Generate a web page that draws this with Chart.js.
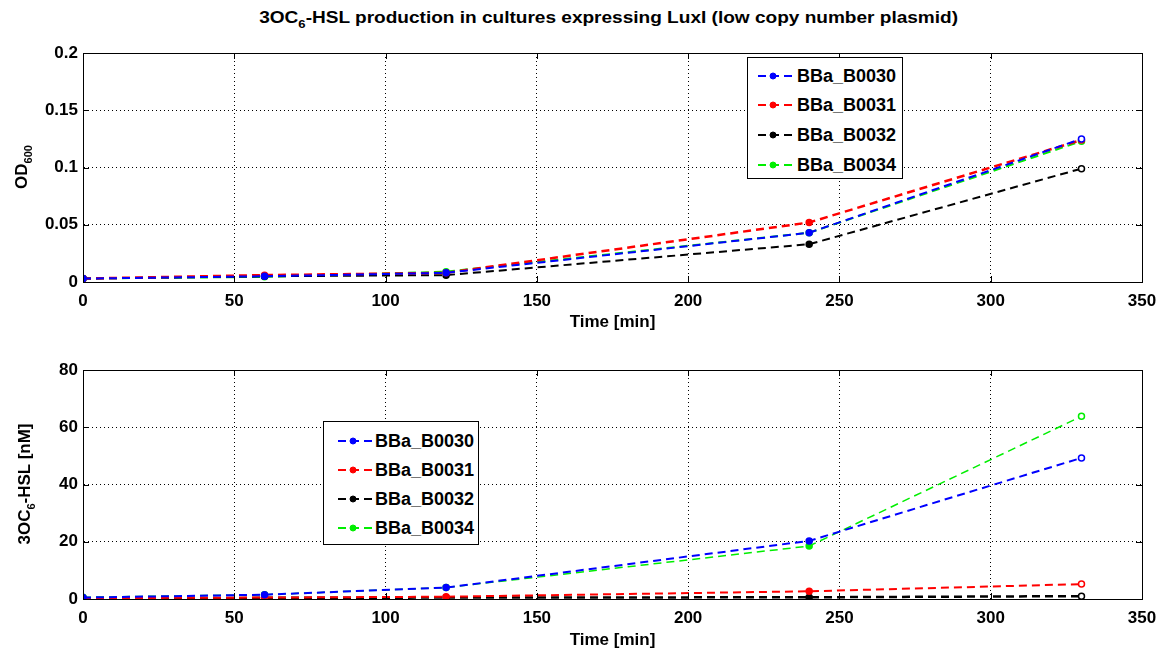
<!DOCTYPE html>
<html><head><meta charset="utf-8">
<script src="https://cdn.jsdelivr.net/npm/chart.js@4/dist/chart.umd.min.js"></script>
<style>
html,body{margin:0;padding:0;background:#fff;}
body{width:1168px;height:653px;position:relative;overflow:hidden;font-family:"Liberation Sans",Arial,sans-serif;}
.cv{position:absolute;left:0;}
#titlewrap{position:absolute;left:0;width:1218px;top:9px;text-align:center;}
#title{display:inline-block;font-weight:bold;font-size:16px;color:#000;transform:scaleX(1.19);transform-origin:50% 50%;white-space:nowrap;}
sub{font-size:11px;vertical-align:-5px;line-height:0;}
.ytitle{position:absolute;font-weight:bold;font-size:17px;white-space:nowrap;transform:translate(-50%,-50%) rotate(-90deg);}
.legend{position:absolute;border:1px solid #000;background:#fff;box-sizing:border-box;}
.li{position:absolute;left:0;font-weight:bold;font-size:18px;height:20px;line-height:20px;white-space:nowrap;}
.li svg{position:absolute;top:0;}
.li span{position:absolute;top:0;}
</style></head>
<body>
<div id="titlewrap"><div id="title">3OC<sub>6</sub>-HSL production in cultures expressing LuxI (low copy number plasmid)</div></div>
<canvas id="c1" class="cv" style="top:0" width="1168" height="333"></canvas>
<canvas id="c2" class="cv" style="top:333px" width="1168" height="320"></canvas>
<div class="ytitle" style="left:22px;top:167px;">OD<sub>600</sub></div>
<div class="ytitle" style="left:25px;top:484px;">3OC<sub>6</sub>-HSL [nM]</div>
<div id="leg1" class="legend" style="left:747px;top:57px;width:156px;height:122px;"></div>
<div id="leg2" class="legend" style="left:323px;top:421px;width:156px;height:124px;"></div>
<script>
const times = [0, 60, 120, 240, 330];
const seriesNames = ['BBa_B0030', 'BBa_B0031', 'BBa_B0032', 'BBa_B0034'];
const seriesColors = ['#0000ff', '#ff0000', '#000000', '#00ee00'];
const odB0030 = [0.003, 0.005, 0.008, 0.043, 0.125];
const odB0031 = [0.003, 0.006, 0.008, 0.052, 0.124];
const odB0032 = [0.003, 0.005, 0.006, 0.033, 0.099];
const odB0034 = [0.003, 0.0045, 0.009, 0.043, 0.123];
const hslB0030 = [0.5, 1.5, 4.0, 20.3, 49.3];
const hslB0031 = [0.3, 0.5, 0.8, 2.7, 5.2];
const hslB0032 = [0.2, 0.4, 0.5, 0.6, 1.0];
const hslB0034 = [0.6, 1.5, 4.0, 18.5, 63.8];
const xTicks = [0, 50, 100, 150, 200, 250, 300, 350];
const odTicks = [0, 0.05, 0.1, 0.15, 0.2];
const hslTicks = [0, 20, 40, 60, 80];

const FONT = "'Liberation Sans', Arial, sans-serif";

function makeDatasets(arrs, widths) {
  return arrs.map((arr, i) => ({
    label: seriesNames[i],
    data: times.map((t, k) => ({x: t, y: arr[k]})),
    borderColor: seriesColors[i],
    backgroundColor: seriesColors[i],
    pointBackgroundColor: ctx => ctx.dataIndex === times.length - 1 ? '#ffffff' : seriesColors[i],
    pointBorderColor: seriesColors[i],
    pointRadius: 3,
    pointBorderWidth: 1.5,
    borderWidth: widths[i],
    borderDash: [8, 5],
    tension: 0,
    fill: false
  }));
}

const boxPlugin = {
  id: 'box',
  afterDatasetsDraw(chart) {
    const {ctx, chartArea: a, scales} = chart;
    ctx.save();
    ctx.strokeStyle = '#000';
    ctx.lineWidth = 1;
    ctx.setLineDash([]);
    ctx.strokeRect(a.left + 0.5, a.top + 0.5, a.right - a.left, a.bottom - a.top);
    const tl = 6;
    ctx.beginPath();
    scales.x.ticks.forEach(t => {
      const px = Math.round(scales.x.getPixelForValue(t.value)) + 0.5;
      ctx.moveTo(px, a.bottom); ctx.lineTo(px, a.bottom - tl);
      ctx.moveTo(px, a.top); ctx.lineTo(px, a.top + tl);
    });
    scales.y.ticks.forEach(t => {
      const py = Math.round(scales.y.getPixelForValue(t.value)) + 0.5;
      ctx.moveTo(a.left, py); ctx.lineTo(a.left + tl, py);
      ctx.moveTo(a.right, py); ctx.lineTo(a.right - tl, py);
    });
    ctx.stroke();
    ctx.restore();
  }
};

function makeChart(id, datasets, yMax, yTicksArr, padTop, padBottom, xAxisH) {
  return new Chart(document.getElementById(id), {
    type: 'line',
    data: {datasets},
    plugins: [boxPlugin],
    options: {
      responsive: false,
      animation: false,
      events: [],
      layout: {padding: {top: padTop, right: 26, bottom: padBottom, left: 0}},
      plugins: {legend: {display: false}, tooltip: {enabled: false}, title: {display: false}},
      scales: {
        x: {
          type: 'linear', min: 0, max: 350,
          afterBuildTicks: s => { s.ticks = xTicks.map(v => ({value: v})); },
          afterFit: s => { s.height = xAxisH; },
          ticks: {color: '#000', font: {family: FONT, size: 17, weight: 'bold'}, padding: 9, maxRotation: 0},
          grid: {color: '#000', lineWidth: 1, drawTicks: false},
          border: {display: true, color: '#000', dash: [1, 3]},
          title: {display: true, text: 'Time [min]', color: '#000', font: {family: FONT, size: 17, weight: 'bold'}, padding: {top: 3, bottom: 0}}
        },
        y: {
          type: 'linear', min: 0, max: yMax,
          afterBuildTicks: s => { s.ticks = yTicksArr.map(v => ({value: v})); },
          afterFit: s => { s.width = 83; },
          ticks: {color: '#000', font: {family: FONT, size: 17, weight: 'bold'}, padding: 5,
                  callback: v => String(+Number(v).toFixed(3))},
          grid: {color: '#000', lineWidth: 1, drawTicks: false},
          border: {display: true, color: '#000', dash: [1, 3]}
        }
      }
    }
  });
}

const c1 = makeChart('c1', makeDatasets([odB0030, odB0031, odB0032, odB0034], [2, 2.5, 2, 2]), 0.2, odTicks, 53, 0, 51);
const c2 = makeChart('c2', makeDatasets([hslB0030, hslB0031, hslB0032, hslB0034], [2, 2, 2.5, 1.5]), 80, hslTicks, 37, 2, 52);

function buildLegend(id, ys, symLeft, textLeft) {
  const el = document.getElementById(id);
  seriesNames.forEach((n, i) => {
    const d = document.createElement('div');
    d.className = 'li';
    d.style.top = (ys[i] - 10) + 'px';
    d.style.width = '100%';
    const c = seriesColors[i];
    d.innerHTML = `<svg style="left:${symLeft}px" width="36" height="20"><line x1="0" y1="10" x2="36" y2="10" stroke="${c}" stroke-width="2" stroke-dasharray="8,5"/><circle cx="15" cy="10" r="3" fill="${c}" stroke="${c}" stroke-width="1"/></svg><span style="left:${textLeft}px">${n}</span>`;
    el.appendChild(d);
  });
}
buildLegend('leg1', [18, 47, 77, 107], 10, 49);
buildLegend('leg2', [19, 48, 77, 106], 14, 51);
</script>
</body></html>
